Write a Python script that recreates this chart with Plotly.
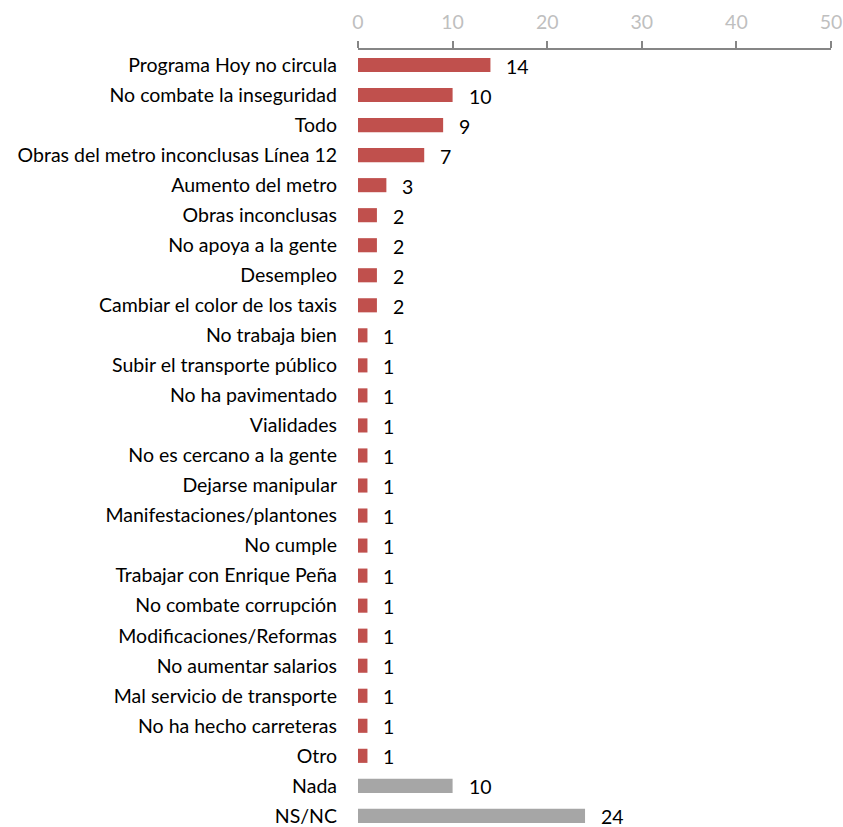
import plotly.graph_objects as go

categories = [
    "Programa Hoy no circula", "No combate la inseguridad", "Todo",
    "Obras del metro inconclusas Línea 12", "Aumento del metro",
    "Obras inconclusas", "No apoya a la gente", "Desempleo",
    "Cambiar el color de los taxis", "No trabaja bien",
    "Subir el transporte público", "No ha pavimentado", "Vialidades",
    "No es cercano a la gente", "Dejarse manipular",
    "Manifestaciones/plantones", "No cumple", "Trabajar con Enrique Peña",
    "No combate corrupción", "Modificaciones/Reformas",
    "No aumentar salarios", "Mal servicio de transporte",
    "No ha hecho carreteras", "Otro", "Nada", "NS/NC",
]
values = [14, 10, 9, 7, 3, 2, 2, 2, 2, 1, 1, 1, 1, 1, 1, 1, 1, 1, 1, 1, 1, 1, 1, 1, 10, 24]
groups = ["red"] * 24 + ["gray"] * 2
tick_vals = [0, 10, 20, 30, 40, 50]

color_map = {"red": "#C0504D", "gray": "#A6A6A6"}
colors = [color_map[g] for g in groups]

FONT = "Lato"
FS = 19.5

fig = go.Figure(go.Bar(
    x=values, y=categories, orientation="h",
    marker=dict(color=colors, line=dict(width=0)),
    width=0.47,
    hoverinfo="x+y",
))

for c, v in zip(categories, values):
    fig.add_annotation(
        x=v, y=c, text=str(v), showarrow=False,
        xanchor="left", yanchor="middle", xshift=14, yshift=-1,
        font=dict(family=FONT, size=FS, color="#000000"),
    )

fig.update_layout(
    width=843, height=827,
    margin=dict(l=358, r=12, t=50, b=0),
    plot_bgcolor="white", paper_bgcolor="white",
    showlegend=False,
    font=dict(family=FONT, size=FS, color="#000000"),
    xaxis=dict(
        side="top", range=[0, 50], tickvals=tick_vals,
        showgrid=False, zeroline=False,
        showline=True, linecolor="#868686", linewidth=1.5,
        ticks="outside", ticklen=7, tickcolor="#868686", tickwidth=1.5,
        ticklabelstandoff=4,
        tickfont=dict(family=FONT, size=FS, color="#BFBFBF"),
        fixedrange=True,
    ),
    yaxis=dict(
        categoryorder="array", categoryarray=categories,
        range=[25.37, -0.5], showgrid=False, zeroline=False, showline=False,
        ticks="", ticklabelstandoff=20,
        tickfont=dict(family=FONT, size=FS, color="#000000"),
        fixedrange=True,
    ),
)

fig.write_html(
    "out.html",
    config={"displayModeBar": False},
    post_script="document.body.style.margin='0';document.body.style.overflow='hidden';",
)
